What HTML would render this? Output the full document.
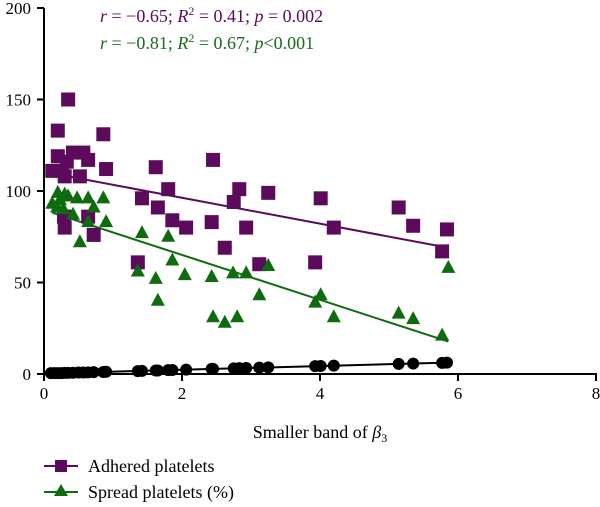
<!DOCTYPE html>
<html><head><meta charset="utf-8"><style>
body{margin:0;background:#fff}
svg{display:block;font-family:"Liberation Serif",serif}
</style></head><body>
<svg id="chart" width="600" height="507" viewBox="0 0 600 507">
<g id="axes"></g><g id="marks"></g>
<text x="100" y="22" font-size="18" fill="#5c0a5c"><tspan font-style="italic">r</tspan> = −0.65; <tspan font-style="italic">R</tspan><tspan font-size="12" dy="-7">2</tspan><tspan dy="7"> = 0.41; </tspan><tspan font-style="italic">p</tspan> = 0.002</text>
<text x="100" y="49" font-size="18" fill="#1a6b1a"><tspan font-style="italic">r</tspan> = −0.81; <tspan font-style="italic">R</tspan><tspan font-size="12" dy="-7">2</tspan><tspan dy="7"> = 0.67; </tspan><tspan font-style="italic">p</tspan>&lt;0.001</text>
<text x="320" y="438" font-size="18" text-anchor="middle">Smaller band of <tspan font-style="italic">β</tspan><tspan font-size="12" dy="4">3</tspan></text>
<line x1="44" y1="466" x2="78" y2="466" stroke="#5c0a5c" stroke-width="2"/>
<rect x="55" y="460" width="12" height="12" fill="#5c0a5c"/>
<text x="88" y="472" font-size="18">Adhered platelets</text>
<line x1="44" y1="492" x2="78" y2="492" stroke="#0f6b0f" stroke-width="2"/>
<polygon points="61,484 68,496 54,496" fill="#0f6b0f"/>
<text x="88" y="498" font-size="18">Spread platelets (%)</text>
</svg>
<script>
const xTicks=[0,2,4,6,8];
const yTicks=[0,50,100,150,200];
const adhX=[0.35,0.2,0.86,0.2,0.42,0.57,0.64,0.33,0.12,0.26,0.3,0.52,0.9,0.29,0.64,0.3,0.72,1.36,1.42,1.62,1.8,1.65,1.86,2.45,2.06,2.43,2.83,2.75,3.25,2.93,2.62,3.12,4.01,4.2,3.93,5.14,5.35,5.84,5.77];
const adhY=[150,133,131,119,121,121,117,116,111,111,108,108,112,86,86,80,76,61,96,113,101,91,84,117,80,83,101,94,99,80,69,60,96,80,61,91,81,79,67];
const sprX=[0.2,0.3,0.12,0.23,0.19,0.35,0.48,0.64,0.86,0.72,0.28,0.42,0.64,0.9,0.52,1.42,1.8,1.86,1.36,1.62,1.65,2.04,2.43,2.74,2.93,3.25,3.12,2.45,2.62,2.8,3.93,4.01,4.2,5.14,5.35,5.77,5.86];
const sprY=[99,98,93,95,91,97,96,96,96,91,90,87,83,83,72,77,75,62,56,52,40,54,53,55,55,59,43,31,28,31,39,43,31,33,30,21,58];
const blkX=[0.1,0.15,0.2,0.25,0.3,0.35,0.42,0.5,0.57,0.64,0.72,0.86,0.9,1.36,1.42,1.62,1.65,1.8,1.86,2.06,2.43,2.45,2.75,2.83,2.93,3.12,3.25,3.93,4.01,4.2,5.14,5.35,5.77,5.84];
const blkY=[0.5,0.5,0.5,0.5,0.6,0.6,0.7,0.8,0.8,0.9,1,1.1,1.2,1.6,1.7,1.9,1.9,2.1,2.2,2.4,2.8,2.8,3.1,3.2,3.3,3.5,3.6,4.3,4.4,4.6,5.5,5.7,6.1,6.2];
const NS="http://www.w3.org/2000/svg";
const X0=44,X1=596,Y0=374,Y1=8;
const sx=v=>X0+(v-0)/(8-0)*(X1-X0);
const sy=v=>Y0-(v-0)/(200-0)*(Y0-Y1);
const axes=document.getElementById('axes'),marks=document.getElementById('marks');
function mk(t,a,p){const e=document.createElementNS(NS,t);for(const k in a)e.setAttribute(k,a[k]);p.appendChild(e);return e;}
let e=mk('line',{x1:X0,y1:Y0,x2:X1+1,y2:Y0,stroke:'#000','stroke-width':2},axes);


e=mk('line',{x1:X0,y1:Y0+1,x2:X0,y2:Y1,stroke:'#000','stroke-width':2},axes);


xTicks.forEach(t=>{mk('line',{x1:sx(t),y1:Y0,x2:sx(t),y2:Y0+7,stroke:'#000','stroke-width':2},axes);
 const tx=mk('text',{x:sx(t),y:Y0+25,'font-size':17,'text-anchor':'middle'},axes);tx.textContent=t;
 
 });
yTicks.forEach(t=>{mk('line',{x1:X0-7,y1:sy(t),x2:X0,y2:sy(t),stroke:'#000','stroke-width':2},axes);
 const tx=mk('text',{x:X0-13,y:sy(t)+6,'font-size':17,'text-anchor':'end'},axes);tx.textContent=t;
 
 });
function fit(xs,ys,color,name){const n=xs.length;let mx=0,my=0;for(let i=0;i<n;i++){mx+=xs[i];my+=ys[i];}mx/=n;my/=n;
 let sxy=0,sxx=0;for(let i=0;i<n;i++){sxy+=(xs[i]-mx)*(ys[i]-my);sxx+=(xs[i]-mx)**2;}const b=sxy/sxx,a=my-b*mx;
 const lo=Math.min(...xs),hi=Math.max(...xs);
 const l=mk('line',{x1:sx(lo),y1:sy(a+b*lo),x2:sx(hi),y2:sy(a+b*hi),stroke:color,'stroke-width':2},marks);
 
 }
fit(blkX,blkY,'#000','fit-line-black');
fit(adhX,adhY,'#5c0a5c','fit-line-adhered');
fit(sprX,sprY,'#0f6b0f','fit-line-spread');
blkX.forEach((x,i)=>{const c=mk('circle',{cx:sx(x),cy:sy(blkY[i]),r:6,fill:'#000'},marks);
 
 });
adhX.forEach((x,i)=>{const r=mk('rect',{x:sx(x)-7,y:sy(adhY[i])-7,width:14,height:14,fill:'#5c0a5c'},marks);
 
 });
sprX.forEach((x,i)=>{const cx=sx(x),cy=sy(sprY[i]);const p=mk('polygon',{points:`${cx},${cy-8} ${cx+7},${cy+5} ${cx-7},${cy+5}`,fill:'#0f6b0f'},marks);
 
 });
</script>
</body></html>
